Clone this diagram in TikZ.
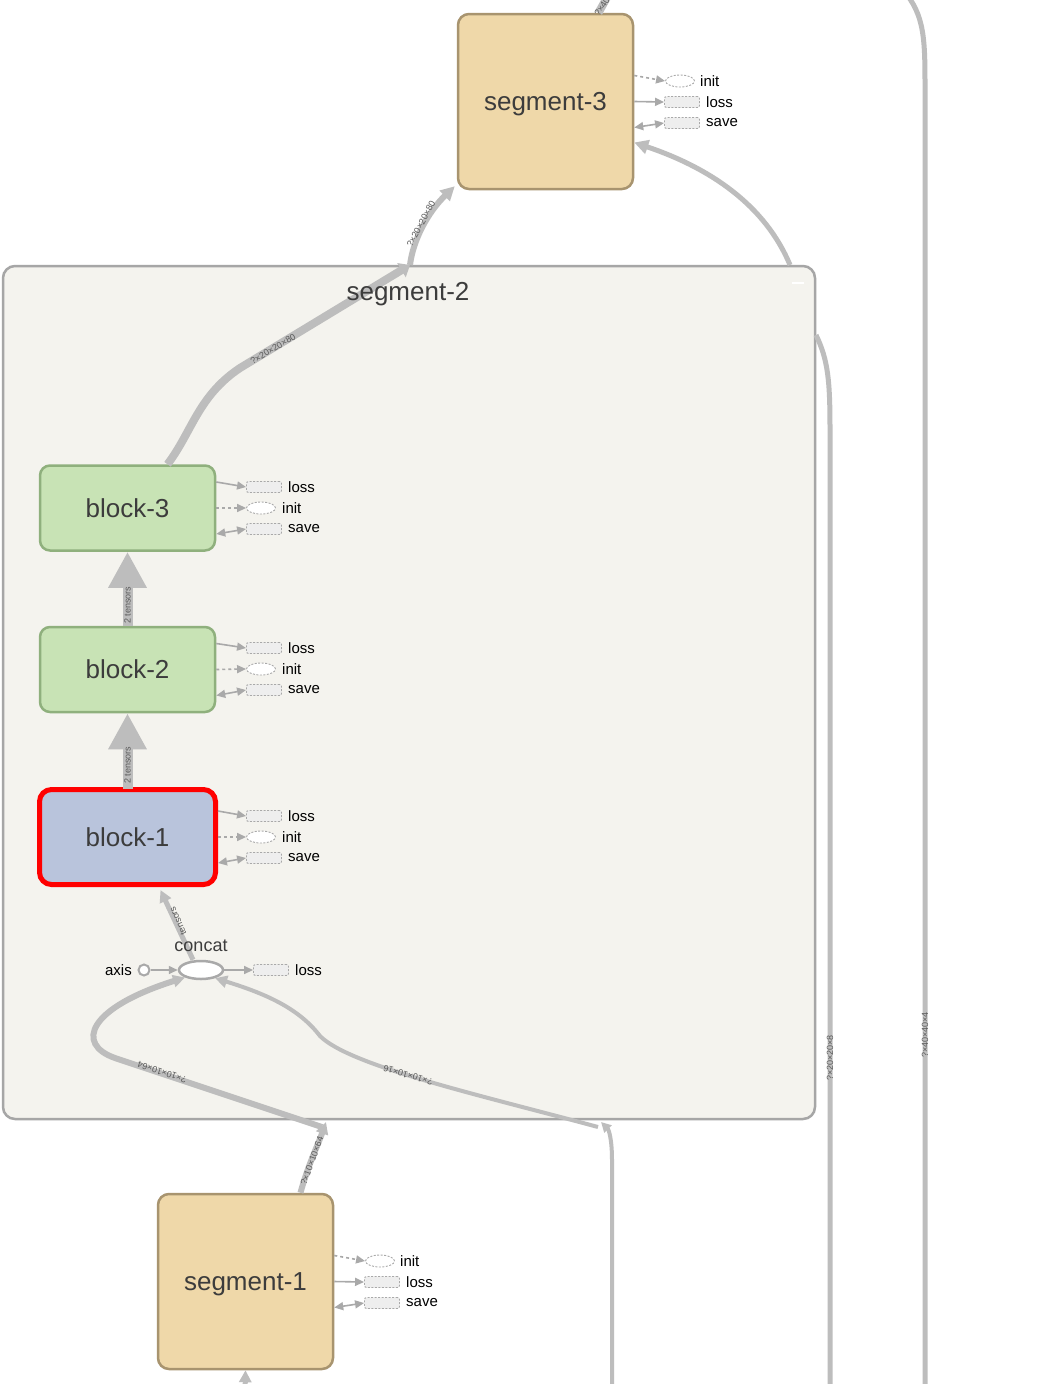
\documentclass[tikz,border=0pt]{standalone}
\usepackage{fontspec}
\setmainfont{Liberation Sans}
\usetikzlibrary{arrows.meta,shapes.geometric}
\definecolor{segfill}{HTML}{EFD8A9}
\definecolor{segdraw}{HTML}{A8946F}
\definecolor{blkfill}{HTML}{C8E3B5}
\definecolor{blkdraw}{HTML}{8FB07D}
\definecolor{bonefill}{HTML}{B9C4DC}
\definecolor{contfill}{HTML}{F4F3EE}
\definecolor{contdraw}{HTML}{A6A6A6}
\definecolor{edgecol}{HTML}{BDBDBD}
\definecolor{itemcol}{HTML}{A9A9A9}
\definecolor{itemfill}{HTML}{EEEEEE}
\definecolor{txt}{HTML}{3C3C3C}
\definecolor{elblcol}{HTML}{5A5A5A}
\newcommand{\bigfont}{\fontsize{26}{30}\selectfont}
\newcommand{\blkitems}[2]{%
  \node[itemrect] (#1-loss) at (264,{#2-21}) {};
  \node[itemell] (#1-init) at (261,#2) {};
  \node[itemrect] (#1-save) at (264,{#2+21}) {};
  \node[lbl] (#1-lossl) at (288,{#2-21}) {loss};
  \node[lbl] (#1-initl) at (282,#2) {init};
  \node[lbl] (#1-savel) at (288,{#2+21}) {save};
  \draw[itemline] ([yshift=26]#1.east) -- (#1-loss.west);
  \draw[itemline,dashed] (#1.east) -- (#1-init.west);
  \draw[itemline,{Triangle[length=9,width=8]}-{Triangle[length=9,width=8]}] ([yshift=-26]#1.east) -- (#1-save.west);
}
\newcommand{\segitems}[3]{%
  \node[itemell,fill=none] (#1-init) at ({#2-2},{#3-21}) {};
  \node[itemrect] (#1-loss) at (#2,#3) {};
  \node[itemrect] (#1-save) at (#2,{#3+21}) {};
  \node[lbl] (#1-initl) at ({#2+18},{#3-21}) {init};
  \node[lbl] (#1-lossl) at ({#2+24},#3) {loss};
  \node[lbl] (#1-savel) at ({#2+24},{#3+21}) {save};
  \draw[itemline,dashed] ([yshift=26]#1.east) -- (#1-init.west);
  \draw[itemline] (#1.east) -- (#1-loss.west);
  \draw[itemline,{Triangle[length=9,width=8]}-{Triangle[length=9,width=8]}] ([yshift=-26]#1.east) -- (#1-save.west);
}
\begin{document}
\begin{tikzpicture}[x=1pt,y=-1pt,
  seg/.style={draw=segdraw, fill=segfill, line width=2.5pt, rounded corners=11pt, minimum width=175pt, minimum height=175pt, inner sep=0pt, font=\bigfont, text=txt, text depth=0pt},
  blk/.style={draw=blkdraw, fill=blkfill, line width=2.5pt, rounded corners=10pt, minimum width=175pt, minimum height=85pt, inner sep=0pt, font=\bigfont, text=txt},
  blkone/.style={draw=red, fill=bonefill, line width=5pt, rounded corners=12pt, minimum width=176pt, minimum height=95pt, inner sep=0pt, font=\bigfont, text=txt},
  cont/.style={draw=contdraw, fill=contfill, line width=2.5pt, rounded corners=12pt, minimum width=812pt, minimum height=853pt, inner sep=0pt},
  title/.style={font=\bigfont, text=txt, inner sep=0pt},
  itemrect/.style={draw=itemcol, dash pattern=on 2pt off 1.5pt, fill=itemfill, rounded corners=2pt, minimum width=35pt, minimum height=11pt, inner sep=0pt, line width=0.9pt},
  itemell/.style={ellipse, draw=itemcol, dash pattern=on 2pt off 1.5pt, fill=white, minimum width=29pt, minimum height=12pt, inner sep=0pt, line width=0.9pt},
  lbl/.style={font=\fontsize{15}{18}\selectfont, anchor=west, inner sep=0pt, text=black},
  itemline/.style={draw=itemcol, line width=1.6pt, -{Triangle[length=9,width=8]}},
  edge/.style={draw=edgecol, line width=#1},
  elbl/.style={font=\fontsize{9}{10}\selectfont, text=elblcol, inner sep=0pt},
  bigarrow/.style={draw=edgecol, line width=10pt, -{Triangle[length=36,width=36]}}
]
\useasboundingbox (0,0) rectangle (1048,1384);
\fill[white] (0,0) rectangle (1048,1384);
\clip (0,0) rectangle (1048,1384);

% container
\node[cont] (s2) at (409,692.5) {};
\draw[white, line width=2pt] (792,283) -- (804,283);

% nodes
\node[seg] (s3) at (545.5,101.5) {segment-3};
\node[seg] (s1) at (245.5,1281.5) {segment-1};
\node[blk] (b3) at (127.5,508) {block-3};
\node[blk] (b2) at (127.5,669.5) {block-2};
\node[blkone] (b1) at (127.5,837) {block-1};

\node[ellipse, draw=itemcol, fill=white, line width=2.5pt, minimum width=44pt, minimum height=18pt, inner sep=0pt] (concat) at (201,970) {};
\node[circle, draw=itemcol, fill=white, line width=2pt, minimum size=11pt, inner sep=0pt] (axis) at (144,970) {};
\node[lbl, anchor=east] (axisl) at (132,970) {axis};
\node[itemrect] (closs) at (271,970) {};
\node[lbl] (clossl) at (295,970) {loss};
\draw[itemline] (axis) -- (concat);
\draw[itemline] (concat) -- (closs);

% coordinates on borders / outside
\coordinate (s2in3) at (410,265);
\coordinate (s2outR) at (790,265);
\coordinate (s2outD) at (816,335);
\coordinate (s2in1) at (326,1122);
\coordinate (s2in1b) at (322,1127);
\coordinate (s2in16) at (601,1122);
\coordinate (s2in16b) at (598,1127);
\coordinate (bot830) at (830,1395);
\coordinate (top925) at (903,-10);
\coordinate (bot925) at (925,1395);
\coordinate (bot612) at (612,1395);
\coordinate (top3) at (610,-8);
\coordinate (bot245) at (245,1395);

% edges
\draw[edge=8pt, -{Triangle[length=10,width=16]}] ([xshift=40]b3.north) .. controls (192,432) and (198,396) .. (240,368) -- (s2in3);
\node[elbl, rotate=31] (l1) at (273,349) {?×20×20×80};
\draw[edge=6pt, -{Triangle[length=14,width=14]}] (s2in3) .. controls (413,240) and (428,212) .. ([xshift=-2,yshift=4]s3.south west);
\node[elbl, rotate=62] (l2) at (421,224) {?×20×20×80};

\draw[edge=5pt, -{Triangle[length=14,width=14]}] (s2outR) .. controls (765,205) and (710,168) .. ([yshift=-41]s3.east);

\draw[edge=8pt] ([xshift=53]s3.north) -- (top3);
\node[elbl, rotate=57] (l3) at (609,-4) {?×40×40×4};

\draw[edge=5pt] (s2outD) .. controls (828,360) and (830,380) .. (830,430) -- (bot830);
\node[elbl, rotate=90] (l4) at (830,1058) {?×20×20×8};
\draw[edge=5pt] (top925) .. controls (925,15) and (925,40) .. (925,90) -- (bot925);
\node[elbl, rotate=90] (l5) at (925,1035) {?×40×40×4};

\draw[bigarrow] (b2.north) -- (b3.south);
\node[elbl, rotate=90] (l6) at (127.5,605) {2 tensors};
\draw[bigarrow] ([yshift=-2]b1.north) -- (b2.south);
\node[elbl, rotate=90] (l7) at (127.5,765) {2 tensors};

\draw[edge=5pt, -{Triangle[length=12,width=12]}] ([xshift=-8]concat.north) -- ([xshift=33,yshift=-3]b1.south);
\node[elbl, rotate=113.6] (l8) at (178,921) {tensors};

% bottom edges
\draw[edge=6pt, -{Triangle[length=12,width=12]}] ([xshift=55]s1.north) .. controls (308,1165) and (318,1145) .. (s2in1);
\node[elbl, rotate=70] (l9) at (312,1161) {?×10×10×64};
\draw[edge=6pt, -{Triangle[length=12,width=12]}] (s2in1b) -- (115,1058) .. controls (75,1044) and (88,1008) .. (concat.205);
\node[elbl, rotate=161.5] (l10) at (162,1072) {?×10×10×64};
\draw[edge=4pt, -{Triangle[length=10,width=10]}] (bot612) -- (612,1160) .. controls (612,1140) and (609,1130) .. (s2in16);
\draw[edge=4pt, -{Triangle[length=12,width=12]}] (s2in16b) .. controls (480,1095) and (350,1066) .. (320,1036) .. controls (300,1010) and (270,995) .. (concat.330);
\node[elbl, rotate=164] (l11) at (408,1075) {?×10×10×16};
\draw[edge=5pt, -{Triangle[length=12,width=12]}] (bot245) -- (s1.south);

\node[title] (s2t) at (408,294) {segment-2};
\node[font=\fontsize{18}{20}\selectfont, text=txt, inner sep=0pt] (concatl) at (201,946) {concat};

% items
\blkitems{b3}{508}
\blkitems{b2}{669}
\blkitems{b1}{837}
\segitems{s3}{682}{102}
\segitems{s1}{382}{1282}
\end{tikzpicture}
\end{document}
